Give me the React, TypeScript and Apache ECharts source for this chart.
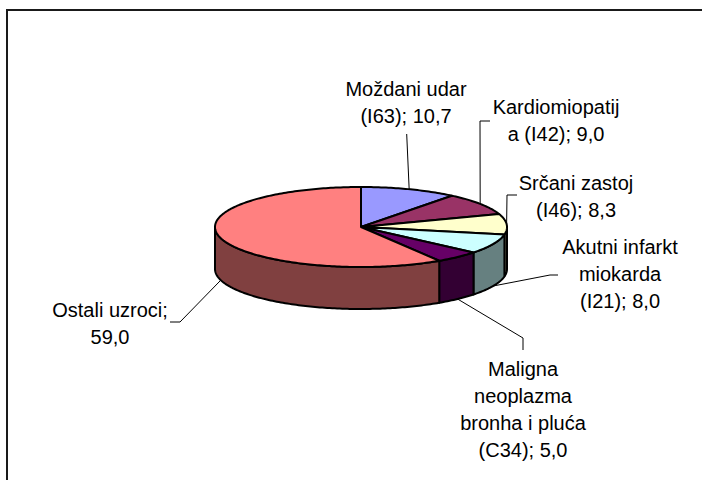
import React, { useEffect, useRef } from "react";
import * as echarts from "echarts";

// ---- data ----
const categories = [
  "Moždani udar\n(I63)",
  "Kardiomiopatij\na (I42)",
  "Srčani zastoj\n(I46)",
  "Akutni infarkt\nmiokarda\n(I21)",
  "Maligna\nneoplazma\nbronha i pluća\n(C34)",
  "Ostali uzroci",
];
const values = [10.7, 9.0, 8.3, 8.0, 5.0, 59.0];

// ---- styles ----
const topColors = ["#9999FF", "#993366", "#FFFFCC", "#CCFFFF", "#660066", "#FF8080"];
const sideColors = ["#4D4D80", "#4D1A33", "#808066", "#668080", "#330033", "#804040"];
const labelSeparators = [" ", " ", " ", " ", " ", "\n"];

// ---- layout ----
const PIE = { cx: 361, cy: 227, rx: 146, ry: 40, depth: 42 };
const labelCenters = [
  [406, 102],
  [556, 120],
  [576, 196],
  [620, 274],
  [523, 409],
  [110, 323],
];
const leaderStarts = [
  [0.7, 32],
  [-66, 1],
  [-59, -1],
  [-62, 1],
  [0, -59],
  [60, -1],
];
const leaderElbows = [
  [0, 0],
  [-10, 0],
  [-10, 0],
  [-8, 0],
  [0, -12],
  [10, 0],
];

const FONT = '20px "Liberation Sans", Arial, sans-serif';

export default function App() {
  const ref = useRef<HTMLDivElement>(null);

  useEffect(() => {
    if (!ref.current) return;
    const chart = echarts.init(ref.current, undefined, { renderer: "svg" });
    const total = values.reduce((a, b) => a + b, 0);
    const startAngles: number[] = [];
    let acc = 0;
    values.forEach((v) => {
      startAngles.push((acc / total) * Math.PI * 2);
      acc += v;
    });

    const { cx, cy, rx, ry, depth } = PIE;
    const pt = (t: number, dz = 0) => [cx + rx * Math.sin(t), cy - ry * Math.cos(t) + dz];
    const arc = (s: number, e: number, dz: number) => {
      const n = Math.max(2, Math.ceil((e - s) / (Math.PI / 180)));
      const pts: number[][] = [];
      for (let k = 0; k <= n; k++) pts.push(pt(s + ((e - s) * k) / n, dz));
      return pts;
    };
    const fmt = (v: number) => v.toFixed(1).replace(".", ",");

    chart.setOption({
      animation: false,
      backgroundColor: "#ffffff",
      graphic: [
        {
          type: "rect",
          shape: { x: 7, y: 10, width: 800, height: 600 },
          style: { fill: "none", stroke: "#1a1a1a", lineWidth: 2 },
          silent: true,
        },
      ],
      series: [
        {
          type: "custom",
          coordinateSystem: "none",
          silent: true,
          data: values.map((v, i) => ({ value: v, name: categories[i] })),
          renderItem: (params: any, api: any) => {
            const i = params.dataIndex;
            const v = api.value(0);
            const a0 = startAngles[i];
            const a1 = a0 + (v / total) * Math.PI * 2;
            const children: any[] = [];
            const s = Math.max(a0, Math.PI / 2);
            const e = Math.min(a1, (Math.PI * 3) / 2);
            if (e > s) {
              children.push({
                type: "polygon",
                z2: 1,
                shape: { points: [...arc(s, e, 0), ...arc(s, e, depth).reverse()] },
                style: { fill: sideColors[i], stroke: "#000", lineWidth: 2, lineJoin: "round" },
              });
            }
            children.push({
              type: "polygon",
              z2: 2,
              shape: { points: [[cx, cy], ...arc(a0, a1, 0)] },
              style: { fill: topColors[i], stroke: "#000", lineWidth: 2, lineJoin: "round" },
            });
            const mid = (a0 + a1) / 2;
            const anchor = pt(mid, Math.cos(mid) < 0 ? depth : 0);
            const lc = labelCenters[i];
            const st = [lc[0] + leaderStarts[i][0], lc[1] + leaderStarts[i][1]];
            const el = [st[0] + leaderElbows[i][0], st[1] + leaderElbows[i][1]];
            children.push({
              type: "polyline",
              z2: 3,
              shape: { points: [st, el, anchor] },
              style: { fill: "none", stroke: "#000", lineWidth: 1 },
            });
            children.push({
              type: "text",
              z2: 4,
              x: lc[0],
              y: lc[1],
              style: {
                text: categories[i] + ";" + labelSeparators[i] + fmt(v),
                fill: "#000",
                font: FONT,
                align: "center",
                verticalAlign: "middle",
                lineHeight: 27,
              },
            });
            return { type: "group", children };
          },
        },
      ],
    });
    return () => chart.dispose();
  }, []);

  return (
    <div
      ref={ref}
      style={{ position: "fixed", left: 0, top: 0, width: 702, height: 480, background: "#fff" }}
    />
  );
}
